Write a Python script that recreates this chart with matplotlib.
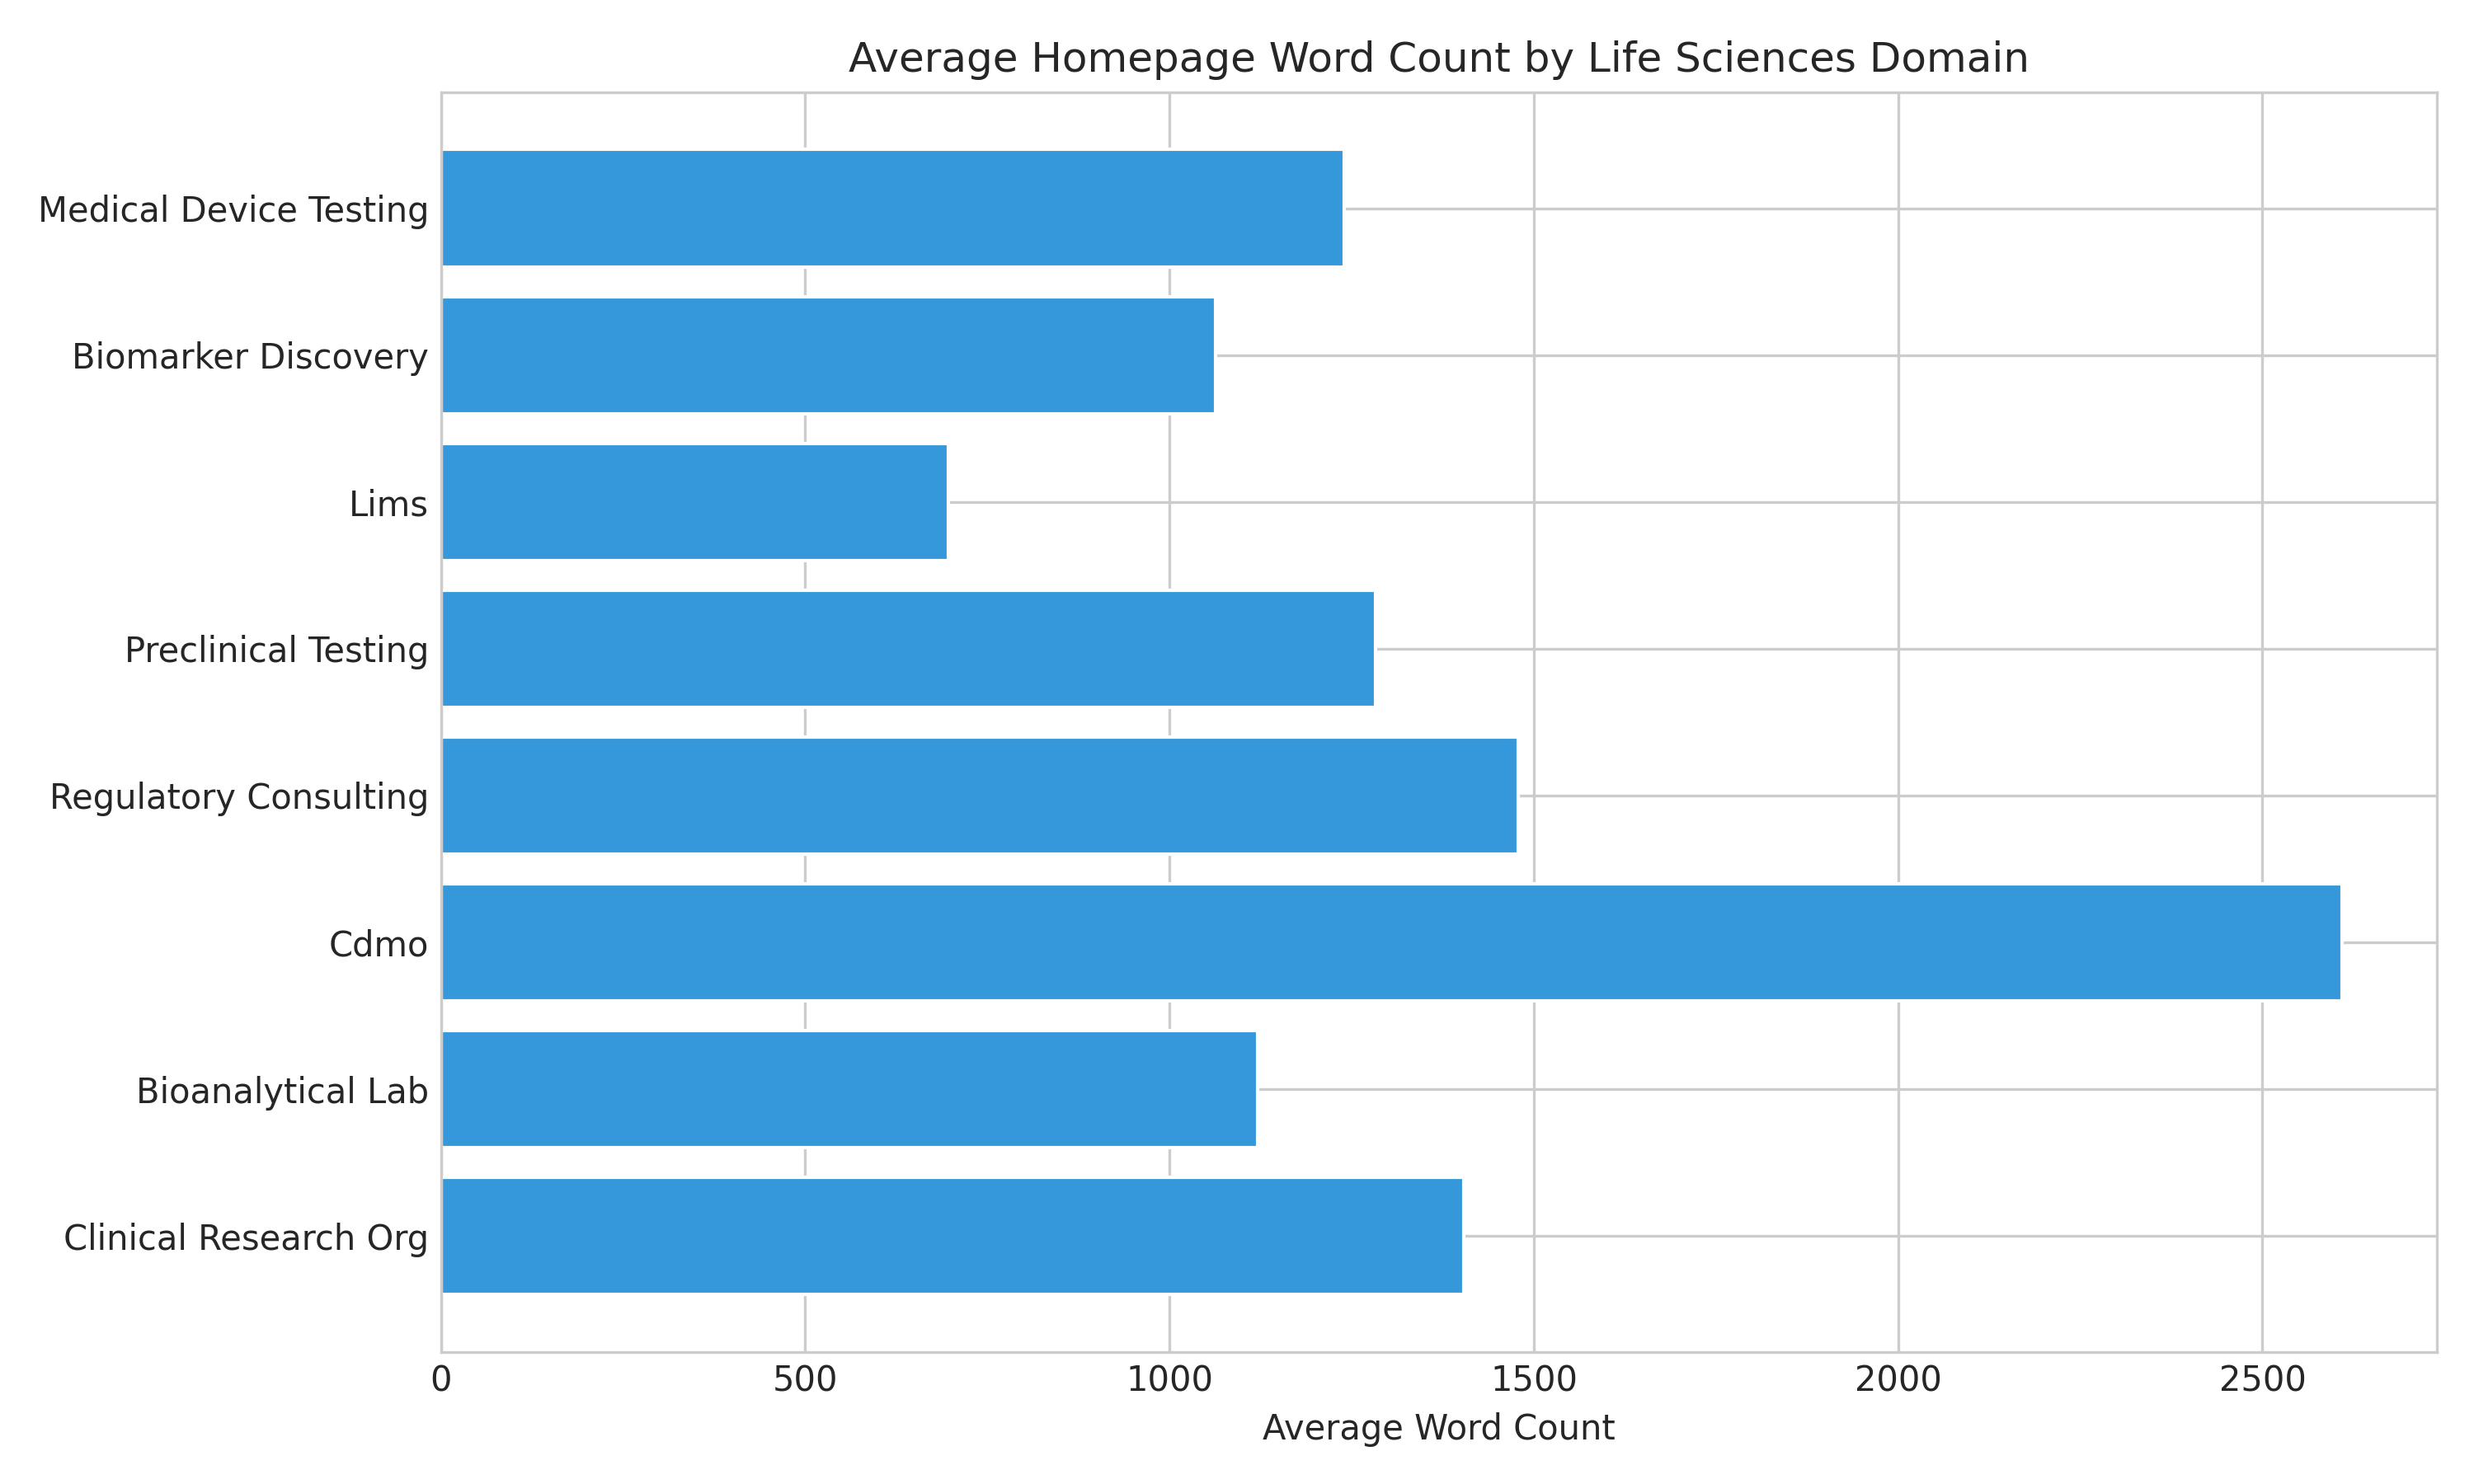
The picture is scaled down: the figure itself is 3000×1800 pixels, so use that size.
import matplotlib
matplotlib.use("Agg")
import matplotlib.pyplot as plt
import seaborn as sns

domains = [
    "Clinical Research Org",
    "Bioanalytical Lab",
    "Cdmo",
    "Regulatory Consulting",
    "Preclinical Testing",
    "Lims",
    "Biomarker Discovery",
    "Medical Device Testing",
]
avg_words = [1404, 1121, 2609, 1479, 1283, 696, 1063, 1240]

sns.set_style("whitegrid")
plt.rcParams["font.family"] = ["DejaVu Sans"]
plt.rcParams["xtick.major.size"] = 0
plt.rcParams["ytick.major.size"] = 0

fig, ax = plt.subplots(figsize=(10, 6))
ax.barh(domains, avg_words, color="#3498db")
ax.set_title("Average Homepage Word Count by Life Sciences Domain", fontsize=12)
ax.set_xlabel("Average Word Count", fontsize=10)
ax.tick_params(labelsize=10)
plt.tight_layout()
plt.savefig("out.png", dpi=300)
